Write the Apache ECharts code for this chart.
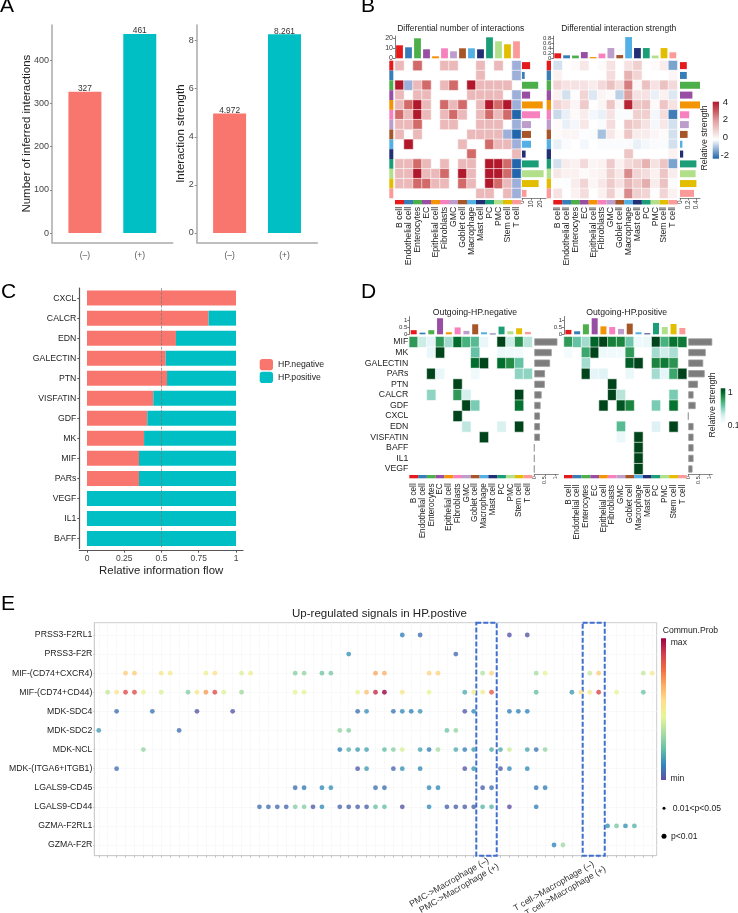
<!DOCTYPE html>
<html><head><meta charset="utf-8">
<style>html,body{margin:0;padding:0;background:#fff}#c{width:738px;height:913px}</style>
<script src="https://cdn.jsdelivr.net/npm/echarts@6/dist/echarts.min.js"></script>
</head><body><div id="c"></div>
<script>
const FONT='"Liberation Sans", Arial, sans-serif';
// ---------- shared
const cellTypes=['B cell','Endothelial cell','Enterocytes','EC','Epithelial cell','Fibroblasts','GMC','Goblet cell','Macrophage','Mast cell','PC','PMC','Stem cell','T cell'];
const cellColors=['#E41A1C','#377EB8','#4DAF4A','#984EA3','#F29403','#F781BF','#BC9DCC','#A65628','#54B0E4','#222F75','#1B9E77','#B2DF8A','#E3BE00','#FB9A99'];
// ---------- A
const groupLabels=['(–)','(+)'];
const interactionCounts=[327,461];
const interactionStrengths=[4.972,8.261];
const groupColors=['#F8766D','#00BFC4'];
// ---------- B
const diffCountTop=[13,11,20,9,2,10,7,10,10,9,21,17,14,17];
const diffCountRight=[9,3,18,9,23,20,10,10,10,4,18.5,24,18.5,5];
const diffCountMatrix=[
[1,0,2,0,0,1,1,0,0,1,0,1,0,-1],
[0,0,0,0,0,0,0,0,0,1,0,0,0,-1],
[3,-1,1,2,0,1,2,0,3,1,1,1,1,0],
[1,0,1,1,0,0,0,0,1,1,1,1,0,-1],
[1,2,3,1,0,2,1,2,0,1,3,2,3,-1],
[2,1,3,1,0,1,2,1,0,1,2,1,2,-2],
[1,1,2,0,0,1,1,0,0,1,1,1,0,-1],
[1,0,1,0,0,0,0,0,1,1,1,1,-1,-2],
[0,3,0,0,0,0,0,1,0,0,2,1,1,-1],
[0,0,0,0,0,0,0,0,2,0,0,0,0,1],
[1,1,2,1,0,1,0,1,1,0,3,3,2,-2],
[1,1,3,1,1,2,0,3,1,0,3,3,2,-2],
[1,1,2,2,1,1,0,2,1,0,3,2,1,-1],
[0,0,0,0,0,0,0,0,0,1,1,0,1,-1]];
const diffStrengthTop=[.2,.12,.11,.25,.05,.19,.41,.13,.85,.41,.41,.11,.41,.24];
const diffStrengthRight=[.17,.17,.52,.31,.53,.23,.22,.19,.06,.08,.41,.39,.41,.35];
const diffStrengthMatrix=[
[-.4,0,.1,.5,0,.1,.6,0,.6,1,0,.1,.4,-1.2],
[.3,0,0,0,0,0,.7,0,1.6,.9,0,0,0,.2],
[.9,.6,.6,.6,.4,.8,1.3,.7,2.5,.2,1.3,.6,1.3,.8],
[.3,-.4,.05,.9,-.3,.2,.1,-.6,2,.6,.6,-.2,.3,-.3],
[.9,.6,.2,1.1,0,.2,1.2,.2,3.8,1.2,1.3,.1,1.2,.6],
[-.5,-.2,.1,.4,-.1,-.2,.6,-.05,-.05,1,1,-.1,.7,-1.7],
[.1,-.2,-.1,.5,0,-.05,.7,0,1.2,1,.6,-.1,.5,-.4],
[.1,.2,.2,-.03,-.05,-.8,.5,.1,1.2,.4,.4,.2,.1,-.4],
[-.2,-.05,0,-.1,0,-.05,-.05,-.05,-.05,-.2,-.1,-.05,-.05,-.4],
[0,0,0,0,0,0,0,0,1.2,0,0,0,0,.3],
[-.4,.4,.3,.8,.2,.3,1.1,.3,.8,1,1.6,.6,1.2,-1.2],
[.5,.3,.3,.1,.2,.3,1,.5,2.3,.9,.7,.3,1.2,.4],
[.05,-.03,.4,.9,.2,.5,1.1,.6,1.5,1.1,1.7,.4,1.3,-.05],
[.6,0,.3,.7,0,.3,1,.2,2.3,1,.9,.05,.9,.3]];
// ---------- C
const flowPathways=['CXCL','CALCR','EDN','GALECTIN','PTN','VISFATIN','GDF','MK','MIF','PARs','VEGF','IL1','BAFF'];
const flowNegative=[1,.816,.597,.528,.537,.445,.405,.383,.349,.349,0,0,0];
const flowPositive=[0,.184,.403,.472,.463,.555,.595,.617,.651,.651,1,1,1];
// ---------- D
const outPathways=['MIF','MK','GALECTIN','PARs','PTN','CALCR','GDF','CXCL','EDN','VISFATIN','BAFF','IL1','VEGF'];
const outNegTop=[.3,.12,.3,1.17,.15,.5,.25,.73,.15,.05,.56,.22,.44,.17];
const outNegRight=[1.1,.83,.75,.51,.5,.35,.3,.27,.27,.27,0,0,0];
const outNegMatrix=[
[.7,.25,.12,.7,.35,.87,.6,.55,.1,0,1,.25,.72,.3],
[0,0,.1,1,0,0,0,.5,0,0,.08,.05,.03,0],
[0,0,0,0,0,0,0,.87,1,0,.87,.75,.5,0],
[0,0,1,.1,0,0,0,.05,0,0,0,0,.4,.4],
[0,0,0,0,0,1,0,0,0,0,0,0,0,0],
[0,0,.4,0,0,.7,.2,0,0,0,0,0,1,0],
[0,0,0,0,0,0,1,.45,0,0,0,0,.85,0],
[0,0,0,0,0,1,0,0,0,0,0,0,0,0],
[0,0,0,0,0,0,.28,0,0,0,.18,0,1,0],
[0,0,0,0,0,0,0,0,1,0,0,0,0,0],
[0,0,0,0,0,0,0,0,0,0,0,0,0,0],
[0,0,0,0,0,0,0,0,0,0,0,0,0,0],
[0,0,0,0,0,0,0,0,0,0,0,0,0,0]];
const outPosTop=[.32,.22,.73,1.17,.58,.53,.39,.78,.15,.07,.83,.53,.75,.46];
const outPosRight=[1.14,.83,.71,.78,.46,.25,.35,0,.25,.25,.25,.25,.2];
const outPosMatrix=[
[.7,.5,.35,.9,1,.8,.78,.48,.06,.08,1,.6,.85,.82],
[.02,0,.65,1,.06,.05,.03,.7,0,0,.35,.22,.33,0],
[0,0,.35,0,0,0,0,.92,1,0,.78,.82,.72,0],
[0,0,1,.12,.15,0,0,.08,0,0,.35,.12,.65,1],
[0,0,0,0,0,1,0,0,0,0,0,0,0,0],
[0,0,0,0,0,1,.3,0,0,0,0,0,.45,0],
[0,0,0,0,1,0,.95,.78,0,0,.45,0,.85,0],
[0,0,0,0,0,0,0,0,0,0,0,0,0,0],
[0,0,0,0,0,0,.55,0,0,0,.16,0,1,0],
[0,0,0,0,0,0,.08,0,1,0,0,0,0,0],
[0,0,0,0,0,0,0,0,1,0,0,0,0,0],
[0,0,0,0,0,0,0,0,1,0,0,0,0,0],
[0,0,0,0,0,0,0,0,1,0,0,0,0,0]];
// ---------- E  (each row: [pair column, probability 0..1 of the colour scale])
const ligandReceptors=['PRSS3-F2RL1','PRSS3-F2R','MIF-(CD74+CXCR4)','MIF-(CD74+CD44)','MDK-SDC4','MDK-SDC2','MDK-NCL','MDK-(ITGA6+ITGB1)','LGALS9-CD45','LGALS9-CD44','GZMA-F2RL1','GZMA-F2R'];
const rowPRSS3F2RL1=[[34,.1],[36,.07],[46,.02],[48,.02]];
const rowPRSS3F2R=[[28,.13],[40,.06]];
const rowMifCxcr4=[[3,.6],[4,.6],[7,.52],[8,.5],[12,.47],[13,.55],[16,.42],[17,.5],[22,.28],[23,.3],[25,.24],[26,.26],[31,.68],[32,.66],[37,.58],[38,.58],[43,.35],[44,.58],[49,.33],[50,.45],[55,.38],[56,.6],[61,.38],[62,.5]];
const rowMifCd44=[[1,.38],[2,.53],[3,.85],[4,.85],[5,.45],[7,.42],[10,.28],[11,.52],[12,.7],[13,.85],[14,.43],[16,.32],[22,.45],[23,.45],[29,.45],[30,.62],[31,.92],[32,1],[34,.52],[37,.45],[41,.18],[42,.5],[43,.48],[44,.82],[49,.22],[53,.15],[54,.55],[55,.5],[56,.87],[58,.45],[61,.24]];
const rowMdkSdc4=[[2,.07],[6,.08],[11,.02],[15,.02],[29,.07],[30,.13],[33,.08],[34,.12],[35,.1],[36,.14],[41,.03],[42,.12],[46,.1],[47,.11],[48,.11]];
const rowMdkSdc2=[[0,.15],[9,.07],[27,.3],[28,.28],[39,.24],[40,.3]];
const rowMdkNcl=[[5,.3],[27,.1],[28,.2],[29,.15],[30,.16],[32,.22],[33,.28],[34,.42],[36,.17],[37,.1],[38,.33],[40,.18],[41,.1],[42,.15],[44,.18],[45,.18],[46,.4],[48,.17],[49,.08],[50,.3]];
const rowMdkItga=[[2,.07],[29,.03],[30,.15],[33,.05],[34,.13],[36,.12],[41,.03],[42,.14],[45,.03],[46,.12],[48,.12]];
const rowLgalsCd45=[[22,.07],[23,.09],[25,.12],[26,.13],[31,.07],[32,.07],[37,.12],[38,.12],[43,.04],[44,.07],[49,.09],[50,.1]];
const rowLgalsCd44=[[18,.07],[19,.07],[20,.06],[21,.05],[22,.27],[23,.27],[24,.03],[25,.12],[27,.05],[28,.04],[29,.04],[30,.04],[31,.22],[32,.22],[34,.01],[37,.12],[39,.04],[40,.04],[41,.03],[42,.04],[43,.2],[44,.2],[46,0],[49,.1]];
const rowGzmaF2RL1=[[57,.13],[58,.25],[59,.13],[60,.2]];
const rowGzmaF2R=[[51,.11],[52,.32]];
const bubbleRows=[rowPRSS3F2RL1,rowPRSS3F2R,rowMifCxcr4,rowMifCd44,rowMdkSdc4,rowMdkSdc2,rowMdkNcl,rowMdkItga,rowLgalsCd45,rowLgalsCd44,rowGzmaF2RL1,rowGzmaF2R];
const pairTickLabels=['PMC->Macrophage (–)','PMC->Macrophage (+)','T cell->Macrophage (–)','T cell->Macrophage (+)'];

const spectral=['#5e4fa2','#3288bd','#66c2a5','#abdda4','#e6f598','#fee08b','#fdae61','#f46d43','#d53e4f','#9e0142'];
const buGn=['#f7fcfd','#e5f5f9','#ccece6','#99d8c9','#66c2a4','#41ae76','#238b45','#006d2c','#00441b'];
const rdBuCount=['#2166ac','#9eb0d9','#ffffff','#ebb9b9','#d26a6a','#b2182b'];
const rdBuStrength=['#2166ac','#90b2d5','#ffffff','#f0cfcf','#e09f9f','#c95a5f','#b2182b'];

const grid=[],xAxis=[],yAxis=[],series=[],visualMap=[],graphic=[];
function addGrid(l,t,w,h,extra){grid.push(Object.assign({left:l,top:t,width:w,height:h,outerBoundsMode:'none'},extra||{}));return grid.length-1;}
const hiddenCat=(g,data,inv)=>({type:'category',gridIndex:g,data,show:false,inverse:!!inv});
function range(n){return Array.from({length:n},(_,i)=>i);}
function txt(x,y,text,size,o){o=o||{};graphic.push({type:'text',x,y,rotation:o.rot||0,silent:true,z:20,style:{text,fontSize:size,fontFamily:FONT,fill:o.color||'#222',align:o.align||'left',verticalAlign:o.va||'middle'}});}
function grad(x,y,w,h,colors){graphic.push({type:'rect',x,y,shape:{width:w,height:h},silent:true,style:{fill:{type:'linear',x:0,y:0,x2:0,y2:1,colorStops:colors.map((c,i)=>({offset:i/(colors.length-1),color:c}))}}});}

// ---- panel A
function panelA(l,vals,min,max,ticks,name,gap,fmt){
  const g=addGrid(l,25,120.7,217.3);
  xAxis.push({type:'value',gridIndex:g,min:.4,max:2.6,splitLine:{show:false},
    axisLine:{onZero:false,lineStyle:{color:'#aaa',width:1.5}},axisTick:{show:false},
    axisLabel:{customValues:[1,2],formatter:v=>groupLabels[v-1],fontSize:8.5,color:'#555',margin:9,showMinLabel:true,showMaxLabel:true}});
  yAxis.push({type:'value',gridIndex:g,min,max,splitLine:{show:false},name,nameLocation:'middle',nameGap:gap,nameMoveOverlap:false,
    nameTextStyle:{fontSize:11.5,color:'#222',fontFamily:FONT},
    axisLine:{show:true,onZero:false,lineStyle:{color:'#aaa',width:1.5}},
    axisTick:{show:true,length:2,customValues:ticks,lineStyle:{color:'#888'}},
    axisLabel:{customValues:ticks,fontSize:9,color:'#444',margin:3,showMinLabel:true,showMaxLabel:true}});
  series.push({type:'bar',xAxisIndex:g,yAxisIndex:g,barWidth:33,
    label:{show:true,position:'top',distance:-1,fontSize:8.4,color:'#333',formatter:p=>fmt(p.value[1])},
    data:vals.map((v,i)=>({value:[i+1,v],itemStyle:{color:groupColors[i]}}))});
}
panelA(52,interactionCounts,-21.5,481.8,[0,100,200,300,400],'Number of inferred interactions',19,v=>String(v));
panelA(196.7,interactionStrengths,-.387,8.65,[0,2,4,6,8],'Interaction strength',9.5,v=>v.toFixed(3));

// ---- helpers for heatmap annotated panels
function heat(l,t,w,h,rowsN,matrix,vm,rowLabels){
  const g=addGrid(l,t,w,h);
  xAxis.push(hiddenCat(g,cellTypes));
  if(rowLabels){yAxis.push({type:'category',gridIndex:g,data:rowLabels,inverse:true,axisLine:{show:false},axisTick:{show:false},axisLabel:{fontSize:8.7,color:'#222',margin:1,interval:0}});}
  else yAxis.push(hiddenCat(g,range(rowsN),true));
  const data=[];matrix.forEach((row,r)=>row.forEach((v,c)=>{if(v!==0)data.push([c,r,v]);}));
  series.push({type:'heatmap',xAxisIndex:g,yAxisIndex:g,data,itemStyle:{borderColor:'#fff',borderWidth:.6}});
  visualMap.push(Object.assign({type:'continuous',show:false,seriesIndex:series.length-1,dimension:2},vm));
}
// blank labels at both ends keep the crowded real tick labels from being dropped
function topBars(l,t,w,h,vals,maxV,ticks,fs,barW){
  const g=addGrid(l,t,w,h);
  xAxis.push(hiddenCat(g,cellTypes));
  const labelled=[maxV*.001,...ticks,maxV];
  yAxis.push({type:'value',gridIndex:g,min:0,max:maxV,splitLine:{show:false},
    axisLine:{show:true,lineStyle:{color:'#444',width:.7}},
    axisTick:{show:true,length:2,customValues:ticks,lineStyle:{color:'#444',width:.7}},
    axisLabel:{customValues:labelled,formatter:v=>ticks.includes(v)?String(v):'',fontSize:fs,color:'#333',margin:2,showMinLabel:true,showMaxLabel:true}});
  series.push({type:'bar',xAxisIndex:g,yAxisIndex:g,barWidth:barW,data:vals.map((v,i)=>({value:v,itemStyle:{color:cellColors[i]}}))});
}
function rightBars(l,t,w,h,vals,cats,maxV,ticks,colorFn,barW,fs,margin){
  const g=addGrid(l,t,w,h);
  yAxis.push(hiddenCat(g,cats,true));
  xAxis.push({type:'value',gridIndex:g,min:0,max:maxV,splitLine:{show:false},
    axisLine:{show:true,lineStyle:{color:'#555',width:.7}},
    axisTick:{show:true,length:2,customValues:ticks,lineStyle:{color:'#555',width:.7}},
    axisLabel:{customValues:ticks,fontSize:fs,color:'#333',rotate:90,margin,showMinLabel:true,showMaxLabel:true}});
  series.push({type:'bar',xAxisIndex:g,yAxisIndex:g,barWidth:barW,data:vals.map((v,i)=>({value:v,itemStyle:colorFn(i)}))});
}
function colStrip(l,t,w,h,labelMargin,fs){
  const g=addGrid(l,t,w,h);
  xAxis.push({type:'category',gridIndex:g,data:cellTypes,axisLine:{show:false},axisTick:{show:false},
    axisLabel:{rotate:90,interval:0,fontSize:fs,color:'#222',margin:labelMargin}});
  yAxis.push({type:'value',gridIndex:g,min:0,max:1,show:false});
  series.push({type:'bar',xAxisIndex:g,yAxisIndex:g,barWidth:'100%',data:cellTypes.map((_,i)=>({value:1,itemStyle:{color:cellColors[i]}}))});
}
function rowStrip(l,t,w,h){
  const g=addGrid(l,t,w,h);
  yAxis.push(hiddenCat(g,cellTypes,true));
  xAxis.push({type:'value',gridIndex:g,min:0,max:1,show:false});
  series.push({type:'bar',xAxisIndex:g,yAxisIndex:g,barWidth:'100%',data:cellTypes.map((_,i)=>({value:1,itemStyle:{color:cellColors[i]}}))});
}
const paletteStyle=i=>({color:cellColors[i]});
const greyStyle=()=>({color:'#7d7d7d',borderColor:'#999',borderWidth:.8});

// ---- panel B
const bT=60.7,bH=137.6;
heat(395,bT,126,bH,14,diffCountMatrix,{min:-2,max:3,inRange:{color:rdBuCount}});
topBars(395,36,126,22.3,diffCountTop,22.3,[0,10,20],7,6.8);
rightBars(522,bT,24,bH,diffCountRight,cellTypes,26.67,[0,10,20],paletteStyle,7,6.5,2);
colStrip(395,200,126,4.3,2.5,8.7);
rowStrip(389.3,bT,4,bH);
heat(553.3,bT,124,bH,14,diffStrengthMatrix,{min:-2,max:4,inRange:{color:rdBuStrength}});
topBars(553.3,36,124,22.3,diffStrengthTop,.892,[0,.2,.4,.6,.8],6,6.8);
rightBars(680,bT,20,bH,diffStrengthRight,cellTypes,.5,[0,.2,.4],paletteStyle,7,6.5,2);
colStrip(553.3,200,124,4.5,2.5,8.7);
rowStrip(546.7,bT,4.3,bH);
txt(460.7,28.7,'Differential number of interactions',8.5,{align:'center'});
txt(618.7,28.7,'Differential interaction strength',8.5,{align:'center'});
grad(712.7,101.7,6.3,57,rdBuStrength.slice().reverse());
txt(722.7,102,'4',9.5);txt(722.7,119.5,'2',9.5);txt(722.7,137,'0',9.5);txt(720.5,155,'-2',9.5);
txt(704.5,138,'Relative strength',8.7,{align:'center',rot:Math.PI/2});

// ---- panel C
{
  const g=addGrid(79.3,288.1,163.7,260.4);
  xAxis.push({type:'value',gridIndex:g,min:-.0517,max:1.047,offset:2.2,splitLine:{show:false},
    axisLine:{show:true,onZero:false,lineStyle:{color:'#555',width:1.2}},
    axisTick:{show:true,length:2,customValues:[0,.25,.5,.75,1],lineStyle:{color:'#555'}},
    axisLabel:{customValues:[0,.25,.5,.75,1],fontSize:8.5,color:'#444',margin:3,formatter:v=>String(v),showMinLabel:true,showMaxLabel:true},
    name:'Relative information flow',nameLocation:'middle',nameGap:15,nameMoveOverlap:false,nameTextStyle:{fontSize:11.4,color:'#222',fontFamily:FONT}});
  yAxis.push({type:'category',gridIndex:g,data:flowPathways,inverse:true,
    axisLine:{show:true,onZero:false,lineStyle:{color:'#555',width:1.2}},
    axisTick:{show:true,length:2,alignWithLabel:true,lineStyle:{color:'#555'}},
    axisLabel:{fontSize:8.7,color:'#222',margin:3,interval:0}});
  series.push({name:'HP.negative',type:'bar',stack:'f',xAxisIndex:g,yAxisIndex:g,barWidth:15,itemStyle:{color:groupColors[0]},data:flowNegative});
  series.push({name:'HP.positive',type:'bar',stack:'f',xAxisIndex:g,yAxisIndex:g,barWidth:15,itemStyle:{color:groupColors[1]},data:flowPositive,
    markLine:{silent:true,symbol:'none',label:{show:false},lineStyle:{color:'#777',type:'dashed',width:.7},data:[{xAxis:.5}]}});
}

// ---- panel D
const dT=336.7,dH=137.6;
const greenVM={min:0,max:1,inRange:{color:buGn}};
heat(409.3,dT,123,dH,13,outNegMatrix,greenVM,outPathways);
topBars(409.3,316.6,123,17.7,outNegTop,1.29,[0,.5,1],6,6);
rightBars(534.3,dT,24,dH,outNegRight,outPathways,1.143,[0,.5,1],greyStyle,7.2,5.5,2);
colStrip(409.3,475,123,3.3,5,8.2);
heat(564,dT,122.7,dH,13,outPosMatrix,greenVM);
topBars(564,316.6,122.7,17.7,outPosTop,1.29,[0,.5,1],6,6);
rightBars(688.3,dT,24,dH,outPosRight,outPathways,1.143,[0,.5,1],greyStyle,7.2,5.5,2);
colStrip(564,475,122.7,3.3,6.5,8.2);
txt(475,312.7,'Outgoing-HP.negative',8.7,{align:'center'});
txt(626.7,312.7,'Outgoing-HP.positive',8.7,{align:'center'});
grad(720.7,388.3,4.6,34.4,buGn.slice().reverse());
txt(727.7,392.7,'1',9);txt(727.7,426,'0.1',8.5);
txt(712.3,405,'Relative strength',8.7,{align:'center',rot:Math.PI/2});

// ---- panel E
{
  const g=addGrid(94.3,622.7,562.4,233,{show:true,borderColor:'#ccc',borderWidth:1,backgroundColor:'transparent'});
  const cols=range(63);
  xAxis.push({type:'value',gridIndex:g,min:-.5,max:62.5,
    axisLine:{onZero:false,lineStyle:{color:'#ccc'}},
    splitLine:{show:true,lineStyle:{color:'#f6f6f6',width:.7}},
    axisTick:{show:true,length:2,customValues:cols,lineStyle:{color:'#aaa',width:.7}},
    axisLabel:{show:false}});
  yAxis.push({type:'value',gridIndex:g,min:-.644,max:11.56,inverse:true,
    axisLine:{onZero:false,lineStyle:{color:'#ccc'}},
    splitLine:{show:true,lineStyle:{color:'#f6f6f6',width:.7}},
    axisTick:{show:true,length:1,customValues:range(12),lineStyle:{color:'#aaa',width:.7}},
    axisLabel:{customValues:range(12),formatter:v=>ligandReceptors[v],fontSize:8.7,color:'#222',margin:2,showMinLabel:true,showMaxLabel:true}});
  const data=[];bubbleRows.forEach((row,r)=>row.forEach(([c,v])=>data.push([c,r,v])));
  const boxStyle={color:'transparent',borderColor:'#3f6fd0',borderWidth:2,borderType:[5,2]};
  series.push({type:'scatter',xAxisIndex:g,yAxisIndex:g,symbolSize:4.8,data,
    markArea:{silent:true,itemStyle:boxStyle,label:{show:false},data:[
      [{xAxis:42.29,yAxis:-.644},{xAxis:44.58,yAxis:11.56}],
      [{xAxis:54.21,yAxis:-.644},{xAxis:56.68,yAxis:11.56}]]}});
  visualMap.push({type:'continuous',show:false,seriesIndex:series.length-1,dimension:2,min:0,max:1,inRange:{color:spectral}});
}
[[488,860],[498,866],[593.3,863.5],[605,868.5]].forEach(([x,y],i)=>txt(x,y,pairTickLabels[i],8.8,{align:'right',rot:Math.PI/6,color:'#333'}));
txt(379.5,614,'Up-regulated signals in HP.postive',11.5,{align:'center'});
txt(662.7,631,'Commun.Prob',8.6);
grad(661,638.3,5,141.7,spectral.slice().reverse());
txt(670.7,642.7,'max',8.6);txt(670.5,778.3,'min',8.6);
graphic.push({type:'circle',x:664,y:808.3,shape:{r:1.5},style:{fill:'#000'},silent:true});
graphic.push({type:'circle',x:664,y:836.3,shape:{r:2.5},style:{fill:'#000'},silent:true});
txt(672.7,808.3,'0.01<p<0.05',8.6);txt(671,836.3,'p<0.01',8.6);

// ---- panel letters
txt(0,16.5,'A',21,{va:'bottom',color:'#000'});
txt(361,16.5,'B',21,{va:'bottom',color:'#000'});
txt(1,303,'C',21,{va:'bottom',color:'#000'});
txt(361,303,'D',21,{va:'bottom',color:'#000'});
txt(1,615,'E',21,{va:'bottom',color:'#000'});

const chart=echarts.init(document.getElementById('c'),null,{renderer:'canvas'});
chart.setOption({animation:false,backgroundColor:'#fff',textStyle:{fontFamily:FONT},
  legend:{data:['HP.negative','HP.positive'],orient:'vertical',left:259.7,top:359,padding:0,itemWidth:13.3,itemHeight:11.3,itemGap:1.5,
    textStyle:{fontSize:8.7,color:'#222',fontFamily:FONT},selectedMode:false},
  grid,xAxis,yAxis,series,visualMap,graphic});
</script></body></html>
